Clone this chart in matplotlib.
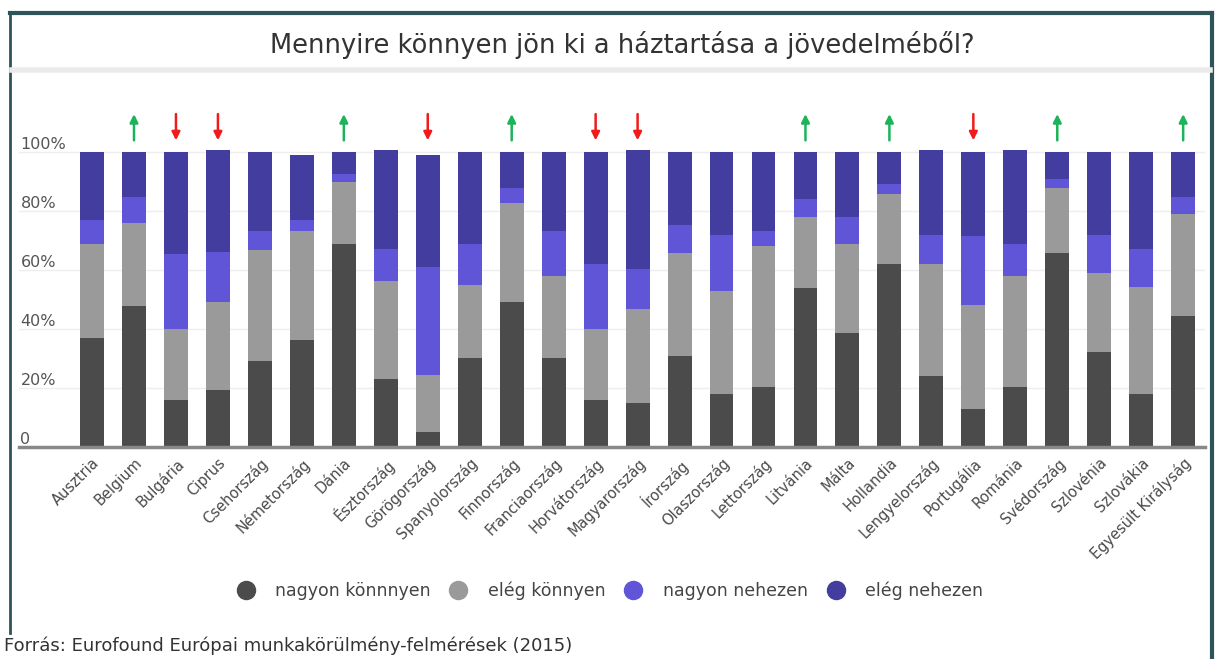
import matplotlib.pyplot as plt
from matplotlib.lines import Line2D
from matplotlib.transforms import ScaledTranslation
import numpy as np

# Adatok (a kép alapján becsülve, %)
orszagok = ["Ausztria", "Belgium", "Bulgária", "Ciprus", "Csehország", "Németország", "Dánia",
            "Észtország", "Görögország", "Spanyolország", "Finnország", "Franciaország",
            "Horvátország", "Magyarország", "Írország", "Olaszország", "Lettország", "Litvánia",
            "Málta", "Hollandia", "Lengyelország", "Portugália", "Románia", "Svédország",
            "Szlovénia", "Szlovákia", "Egyesült Királyság"]

nagyon_konnyen = [37.1, 47.8, 16.0, 19.2, 29.2, 36.4, 68.9, 23.2, 5.1, 30.3, 49.2, 30.3, 16.0, 15.0,
                  31.0, 17.9, 20.3, 53.9, 38.8, 61.9, 24.0, 13.0, 20.3, 65.8, 32.2, 18.1, 44.3]
eleg_konnyen = [31.8, 28.2, 24.1, 30.0, 37.7, 36.7, 20.9, 33.0, 19.2, 24.7, 33.6, 27.6, 24.1, 31.9,
                34.9, 35.0, 47.8, 24.1, 30.1, 24.0, 38.1, 35.0, 37.6, 22.1, 26.8, 36.1, 34.8]
nagyon_nehezen = [8.2, 8.7, 25.2, 16.9, 6.2, 4.0, 2.9, 10.8, 36.7, 13.9, 5.1, 15.2, 22.0, 13.3,
                  9.2, 19.1, 5.0, 6.2, 9.1, 3.4, 9.9, 23.4, 11.0, 3.1, 13.0, 12.8, 5.6]
eleg_nehezen = [22.9, 15.3, 34.7, 34.7, 26.9, 21.8, 7.3, 33.8, 37.9, 31.1, 12.1, 26.9, 37.9, 40.6,
                24.9, 28.0, 26.9, 15.8, 22.0, 10.7, 28.8, 28.6, 31.9, 9.0, 28.0, 33.0, 15.3]

# trend: 1 = felfelé (zöld), -1 = lefelé (piros), 0 = nincs nyíl
trend = [0, 1, -1, -1, 0, 0, 1, 0, -1, 0, 1, 0, -1, -1, 0, 0, 0, 1, 0, 1, 0, -1, 0, 1, 0, 0, 1]

kategoriak = ["nagyon könnnyen", "elég könnyen", "nagyon nehezen", "elég nehezen"]
szinek = ["#4b4b4b", "#9a9a9a", "#5f55d6", "#423d9f"]

W, H = 1215, 659
fig = plt.figure(figsize=(W / 100, H / 100), dpi=100)
ax = fig.add_axes([19 / W, 1 - 447 / H, 1186 / W, (447 - 107.75) / H])

x = np.arange(len(orszagok))
sorozatok = [nagyon_konnyen, eleg_konnyen, nagyon_nehezen, eleg_nehezen]
alap = np.zeros(len(orszagok))
for ertekek, szin in zip(sorozatok, szinek):
    ertekek = np.array(ertekek)
    ax.bar(x, ertekek, bottom=alap, width=0.57, color=szin, zorder=3)
    alap = alap + ertekek

# nyilak a sávok fölött
for i, t in enumerate(trend):
    if t == 0:
        continue
    if t > 0:
        ax.annotate("", xy=(i, 113.8), xytext=(i, 103),
                    arrowprops=dict(arrowstyle="-|>", color="#1db35a", lw=1.8, mutation_scale=12))
    else:
        ax.annotate("", xy=(i, 103), xytext=(i, 113.8),
                    arrowprops=dict(arrowstyle="-|>", color="#f01c1c", lw=1.8, mutation_scale=12))

ax.set_xlim(-1.74, 26.52)
ax.set_ylim(0, 115)

ax.set_yticks([0, 20, 40, 60, 80, 100])
ax.set_yticklabels(["0", "20%", "40%", "60%", "80%", "100%"])
ax.tick_params(axis="y", length=0, pad=-1, labelsize=11.5, labelcolor="#555555")
for lab in ax.get_yticklabels():
    lab.set_horizontalalignment("left")
    lab.set_verticalalignment("bottom")
ax.yaxis.grid(True, color="#eeeeee", linewidth=1, zorder=0)
ax.set_axisbelow(True)

ax.set_xticks(x)
ax.set_xticklabels(orszagok, rotation=45, ha="right", va="top", rotation_mode="anchor",
                   fontsize=10.5, color="#4a4a4a")
eltolas = ScaledTranslation(8 / 100, 0, fig.dpi_scale_trans)
for lab in ax.get_xticklabels():
    lab.set_transform(lab.get_transform() + eltolas)
ax.tick_params(axis="x", length=0, pad=6)

for s in ["top", "right", "left"]:
    ax.spines[s].set_visible(False)
ax.spines["bottom"].set_color("#888888")
ax.spines["bottom"].set_linewidth(2.5)
ax.spines["bottom"].set_zorder(4)

# keret, cím és szürke sáv
keret = "#2e5358"
fig.add_artist(Line2D([10 / W, 1212 / W], [1 - 13 / H, 1 - 13 / H], color=keret, lw=3))
fig.add_artist(Line2D([10 / W, 10 / W], [1 - 13 / H, 1 - 633 / H], color=keret, lw=2))
fig.add_artist(Line2D([1212 / W, 1212 / W], [1 - 13 / H, 0], color=keret, lw=3))
fig.add_artist(Line2D([12 / W, 1210 / W], [1 - 70 / H, 1 - 70 / H], color="#ebebeb", lw=4))

fig.text(0.512, 1 - 45 / H, "Mennyire könnyen jön ki a háztartása a jövedelméből?",
         ha="center", va="center", fontsize=18.5, color="#333333")

jelolok = [Line2D([], [], marker="o", linestyle="none", markersize=13, color=c) for c in szinek]
fig.legend(jelolok, kategoriak, loc="center", bbox_to_anchor=(610 / W, 1 - 591 / H), ncol=4,
           frameon=False, fontsize=12.5, handlelength=1.0, handletextpad=1.2,
           columnspacing=1.1, labelcolor="#444444")

fig.text(4 / W, 1 - 646 / H, "Forrás: Eurofound Európai munkakörülmény-felmérések (2015)",
         ha="left", va="center", fontsize=13, color="#333333")

fig.savefig("out.png", dpi=100, facecolor="white")
